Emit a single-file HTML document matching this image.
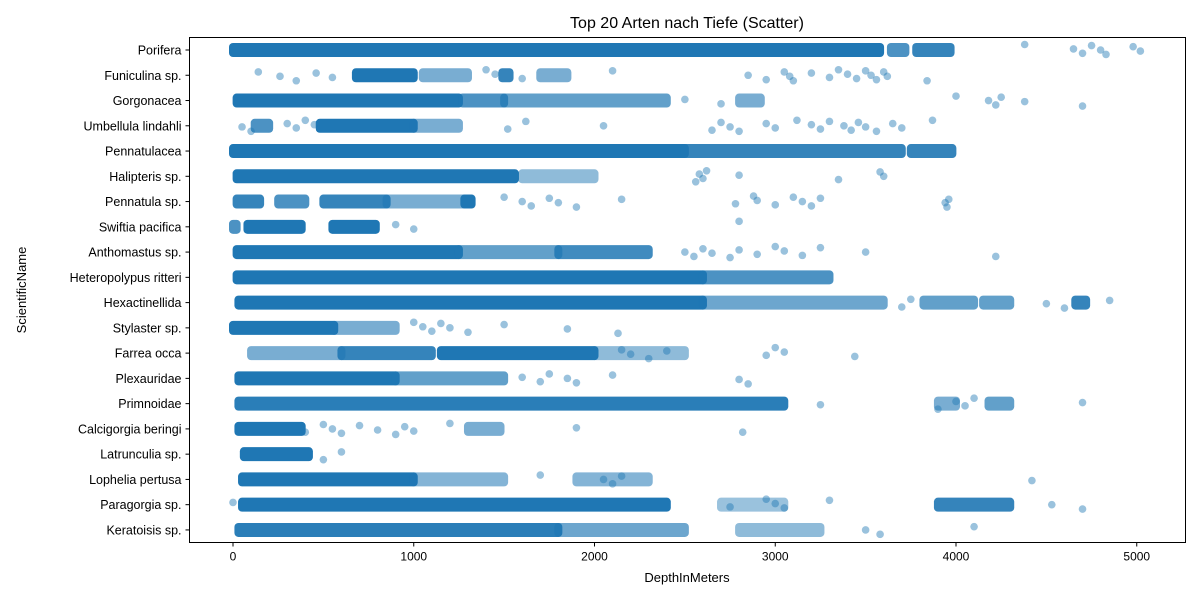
<!DOCTYPE html>
<html><head><meta charset="utf-8">
<style>
html,body{margin:0;padding:0;background:#fff;}
svg{display:block;font-family:"Liberation Sans","DejaVu Sans",sans-serif;}
</style></head>
<body>
<svg id="chart" width="1200" height="600" viewBox="0 0 1200 600">
<text x="687" y="28" text-anchor="middle" font-size="16" fill="#000">Top 20 Arten nach Tiefe (Scatter)</text>
<g id="plot"></g>
<rect x="189.5" y="37.5" width="996" height="505" fill="none" stroke="#000" stroke-width="1"/>
<text x="687" y="582" text-anchor="middle" font-size="13">DepthInMeters</text>
<text x="26" y="290" text-anchor="middle" font-size="13" transform="rotate(-90 26 290)">ScientificName</text>
</svg>
<script>
const categories = ["Porifera","Funiculina sp.","Gorgonacea","Umbellula lindahli","Pennatulacea","Halipteris sp.","Pennatula sp.","Swiftia pacifica","Anthomastus sp.","Heteropolypus ritteri","Hexactinellida","Stylaster sp.","Farrea occa","Plexauridae","Primnoidae","Calcigorgia beringi","Latrunculia sp.","Lophelia pertusa","Paragorgia sp.","Keratoisis sp."];
const xTicks = [0,1000,2000,3000,4000,5000];
// dense ranges: [start, end, density]
const bands = [
 [[0,3580,0.95],[3640,3720,0.7],[3780,3970,0.8]],
 [[680,1000,0.95],[1050,1300,0.5],[1490,1530,0.8],[1700,1850,0.5]],
 [[20,1250,0.95],[1270,1500,0.7],[1500,2400,0.6],[2800,2920,0.5]],
 [[120,200,0.7],[480,1000,0.95],[1000,1250,0.5]],
 [[0,2500,0.95],[2500,3700,0.8],[3750,3980,0.8]],
 [[20,1560,0.9],[1600,2000,0.4]],
 [[20,150,0.8],[250,400,0.7],[500,850,0.8],[850,1280,0.5],[1280,1320,0.95]],
 [[0,20,0.7],[80,380,0.9],[550,790,0.9]],
 [[20,1250,0.95],[1250,1800,0.6],[1800,2300,0.75]],
 [[20,2600,0.95],[2600,3300,0.7]],
 [[30,2600,0.95],[2600,3600,0.55],[3820,4100,0.6],[4150,4300,0.6],[4660,4720,0.8]],
 [[0,560,0.95],[560,900,0.5]],
 [[100,600,0.5],[600,1100,0.8],[1150,2000,0.9],[2000,2500,0.4]],
 [[30,900,0.9],[900,1500,0.6]],
 [[30,3050,0.85],[3900,4000,0.5],[4180,4300,0.6]],
 [[30,380,0.9],[1300,1480,0.5]],
 [[60,420,0.9]],
 [[50,1000,0.9],[1000,1500,0.45],[1900,2300,0.45]],
 [[50,2400,0.95],[2700,3050,0.35],[3900,4300,0.8]],
 [[30,1800,0.85],[1800,2500,0.55],[2800,3250,0.4]]
];
// sparse individual points
const points = [
 [4380,4650,4700,4750,4800,4830,4980,5020],
 [140,260,350,460,550,1400,1450,1600,2100,2850,2950,3050,3080,3100,3200,3300,3350,3400,3450,3500,3530,3560,3600,3620,3840],
 [2500,2700,4000,4180,4220,4250,4380,4700],
 [50,100,300,350,400,450,1520,1620,2050,2650,2700,2750,2800,2950,3000,3120,3200,3250,3300,3380,3420,3460,3500,3560,3650,3700,3870],
 [],
 [2560,2580,2600,2620,2800,3350,3580,3600],
 [1500,1600,1650,1750,1800,1900,2150,2780,2880,2900,3000,3100,3150,3200,3250,3940,3950,3960],
 [900,1000,2800],
 [2500,2550,2600,2650,2750,2800,2900,3000,3050,3150,3250,3500,4220],
 [],
 [3700,3750,4500,4600,4850],
 [1000,1050,1100,1150,1200,1300,1500,1850,2130],
 [2150,2200,2300,2400,2950,3000,3050,3440],
 [1600,1700,1750,1850,1900,2100,2800,2850],
 [3250,3900,4000,4050,4100,4700],
 [400,500,550,600,700,800,900,950,1000,1200,1900,2820],
 [500,600],
 [1700,2050,2100,2150,4420],
 [0,2750,2950,3000,3050,3300,4530,4700],
 [3500,3580,4100]
];

const NS="http://www.w3.org/2000/svg";
const plot=document.getElementById('plot');
const svg=document.getElementById('chart');
const x0=189.5,x1=1185.5,y0=37.5,y1=542.5;
function xScale(v){return 233+v*0.18075;}
function yScale(i){return 50+i*25.26;}
function mk(tag,attrs){const e=document.createElementNS(NS,tag);for(const k in attrs)e.setAttribute(k,attrs[k]);return e;}
const color="#1f77b4";

categories.forEach((c,i)=>{
  const y=yScale(i);
  const g=mk('g',{});
  
  
  bands[i].forEach(b=>{
    const r=mk('rect',{x:xScale(b[0])-4,y:y-7,width:xScale(b[1])-xScale(b[0])+8,height:14,rx:4,fill:color,'fill-opacity':Math.min(1,b[2]+0.1)});
    
    
    g.appendChild(r);
  });
  points[i].forEach((v,j)=>{
    const off=(((j*37+i*13)%11)-5)*1.1;
    const p=mk('circle',{cx:xScale(v),cy:y+off,r:3.8,fill:color,'fill-opacity':0.45});
    
    
    g.appendChild(p);
  });
  plot.appendChild(g);
  const t=mk('line',{x1:x0-4,x2:x0,y1:y,y2:y,stroke:'#000'});
  
  
  svg.appendChild(t);
  const l=mk('text',{x:x0-8,y:y+4.5,'text-anchor':'end','font-size':12.5});
  l.textContent=c;
  
  
  svg.appendChild(l);
});
xTicks.forEach(v=>{
  const x=xScale(v);
  const t=mk('line',{x1:x,x2:x,y1:y1,y2:y1+4,stroke:'#000'});
  
  
  svg.appendChild(t);
  const l=mk('text',{x:x,y:y1+18,'text-anchor':'middle','font-size':12});
  l.textContent=v;
  
  
  svg.appendChild(l);
});
</script>
</body></html>
